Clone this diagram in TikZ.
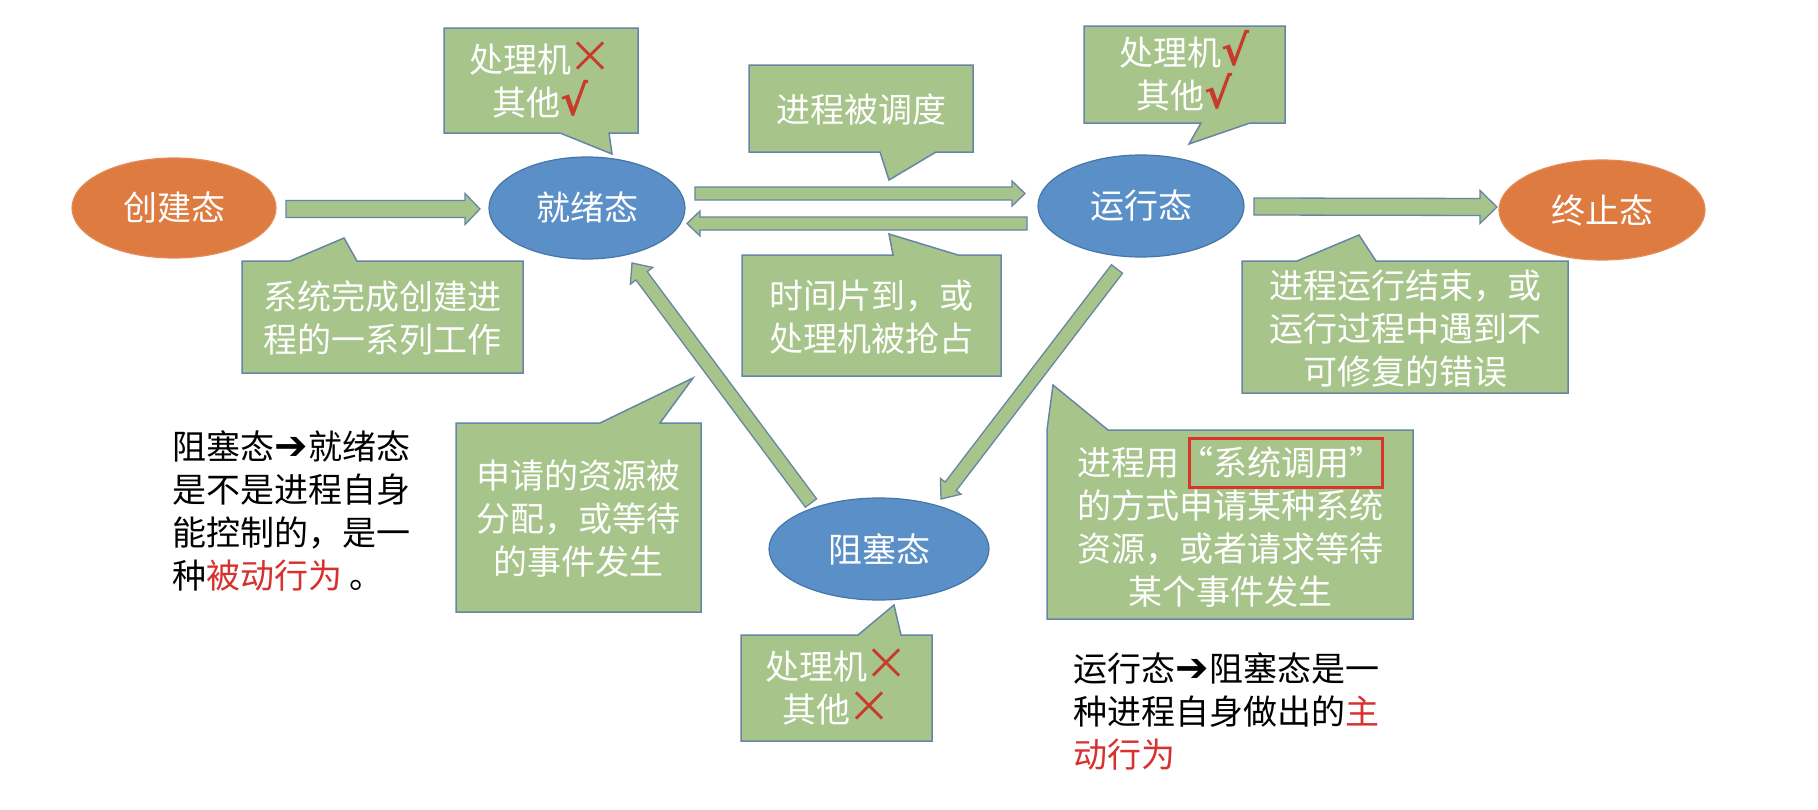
\documentclass[tikz,border=0pt]{standalone}
\usepackage{fontspec}
\setmainfont{Noto Sans CJK SC}
\newfontfamily\dejavu{DejaVu Sans}
\usetikzlibrary{shapes.geometric,calc}
\definecolor{orangeF}{HTML}{DD7B40}
\definecolor{orangeD}{HTML}{E48A55}
\definecolor{blueF}{HTML}{5B8FC8}
\definecolor{blueD}{HTML}{4676A8}
\definecolor{greenF}{HTML}{A7C48A}
\definecolor{greenD}{HTML}{6786A6}
\definecolor{redT}{HTML}{D6312E}
\definecolor{redM}{HTML}{C83A2C}
\definecolor{redBox}{HTML}{D9352B}
\newcommand\bigtxt{\fontsize{34}{43}\selectfont}
\newcommand\redx{{\color{redM}\fontsize{44}{43}\selectfont\hspace{-3pt}\smash{×}}}
\newcommand\redv{{\color{redM}\dejavu\bfseries\fontsize{42}{43}\selectfont \smash{√}}}
\newcommand\thickarrow{\makebox[1em]{\dejavu\bfseries\fontsize{40}{43}\selectfont ➔}}
\tikzset{
  statenode/.style={ellipse, inner sep=0pt, text=white, font=\bigtxt, line width=1.2pt},
  orangestate/.style={statenode, fill=orangeF, draw=orangeD},
  bluestate/.style={statenode, fill=blueF, draw=blueD},
  calloutbg/.style={fill=greenF, draw=greenD, line width=1.5pt, line join=miter},
  callouttext/.style={text=white, align=center, inner sep=0pt, font=\bigtxt},
  blockarrow/.style={fill=greenF, draw=greenD, line width=1.3pt, line join=miter},
  note/.style={align=left, inner sep=0pt, font=\bigtxt, text=black, anchor=west},
  highlight/.style={draw=redBox, line width=3pt, inner sep=0pt},
}
\newcommand\barrow[5]{%
  \coordinate (#1-#2-h) at ($(#2)!#5!(#1)$);
  \draw[blockarrow] ($(#1)!#3!90:(#2)$) -- ($(#1-#2-h)!#3!90:(#2)$) -- ($(#1-#2-h)!#4!90:(#2)$) -- (#2) -- ($(#1-#2-h)!#4!-90:(#2)$) -- ($(#1-#2-h)!#3!-90:(#2)$) -- ($(#1)!#3!-90:(#2)$) -- cycle;
}
\begin{document}
\begin{tikzpicture}[x=1pt,y=-1pt]
\fill[white] (0,0) rectangle (1818,809);
\useasboundingbox (0,0) rectangle (1818,809);

% states
\node[orangestate, minimum width=204pt, minimum height=100pt] (create) at (174,208) {创建态};
\node[bluestate, minimum width=196pt, minimum height=102pt] (ready) at (587,208) {就绪态};
\node[bluestate, minimum width=206pt, minimum height=102pt] (run) at (1141,206) {运行态};
\node[orangestate, minimum width=206pt, minimum height=100pt] (term) at (1602,210) {终止态};
\node[bluestate, minimum width=220pt, minimum height=102pt] (block) at (879,549) {阻塞态};

% arrow end points
\coordinate (a1s) at (286,209);   \coordinate (a1e) at (480,209);
\coordinate (a2s) at (695,193.5); \coordinate (a2e) at (1025,193.5);
\coordinate (a3s) at (1027,223.5);\coordinate (a3e) at (687,223.5);
\coordinate (a4s) at (1254,206.5);\coordinate (a4e) at (1497,207);
\coordinate (a5s) at (811,503);   \coordinate (a5e) at (632,263);
\coordinate (a6s) at (1117,269);  \coordinate (a6e) at (941,499);

\barrow{a1s}{a1e}{8.5pt}{15.5pt}{15pt}
\barrow{a2s}{a2e}{6.5pt}{12.5pt}{13pt}
\barrow{a3s}{a3e}{6.5pt}{12.5pt}{13pt}
\barrow{a4s}{a4e}{8.5pt}{16.5pt}{17pt}
\barrow{a5s}{a5e}{7pt}{14pt}{16pt}
\barrow{a6s}{a6e}{7pt}{13pt}{16pt}

% callouts
\draw[calloutbg] (444,28) -- (638,28) -- (638,133) -- (609,133) -- (612,154) -- (560,133) -- (444,133) -- cycle;
\node[callouttext] (c1) at (541,81.5) {处理机\redx\\其他\redv};

\draw[calloutbg] (242,261) -- (290,261) -- (344,238) -- (357,261) -- (523,261) -- (523,373) -- (242,373) -- cycle;
\node[callouttext] (c2) at (382.5,318.5) {系统完成创建进\\程的一系列工作};

\draw[calloutbg] (749,65) -- (973,65) -- (973,152) -- (936,152) -- (889,180) -- (880,152) -- (749,152) -- cycle;
\node[callouttext] (c3) at (861,109) {进程被调度};

\draw[calloutbg] (742,255) -- (893,255) -- (889,234) -- (958,255) -- (1001,255) -- (1001,376) -- (742,376) -- cycle;
\node[callouttext] (c4) at (871.5,317) {时间片到，或\\处理机被抢占};

\draw[calloutbg] (1084,26) -- (1285,26) -- (1285,123) -- (1250,123) -- (1189,144) -- (1201,123) -- (1084,123) -- cycle;
\node[callouttext] (c5) at (1184.5,74.5) {处理机\redv\\其他\redv};

\draw[calloutbg] (1242,261) -- (1297,261) -- (1359,235) -- (1376,261) -- (1568,261) -- (1568,393) -- (1242,393) -- cycle;
\node[callouttext] (c6) at (1405,329) {进程运行结束，或\\运行过程中遇到不\\可修复的错误};

\draw[calloutbg] (456,423) -- (600,423) -- (693,378) -- (660,423) -- (701,423) -- (701,612) -- (456,612) -- cycle;
\node[callouttext] (c7) at (578.5,519) {申请的资源被\\分配，或等待\\的事件发生};

\draw[calloutbg] (1047,430) -- (1053,385) -- (1108,430) -- (1413,430) -- (1413,619) -- (1047,619) -- cycle;
\node[callouttext] (c8) at (1230,527) {进程用\makebox[1em][r]{“}系统调用\makebox[1em][l]{”}\\的方式申请某种系统\\资源，或者请求等待\\某个事件发生};
\node[highlight, minimum width=193pt, minimum height=49pt] (hl) at (1285.5,462.5) {};

\draw[calloutbg] (741,635) -- (858,635) -- (894,605) -- (901,635) -- (932,635) -- (932,741) -- (741,741) -- cycle;
\node[callouttext] (c9) at (836.5,688.5) {处理机\redx\\其他\redx};

% notes
\node[note] (n1) at (172,511) {阻塞态\thickarrow 就绪态\\是不是进程自身\\能控制的，是一\\种{\color{redT}被动行为} 。};
\node[note] (n2) at (1073,712) {运行态\thickarrow 阻塞态是一\\种进程自身做出的{\color{redT}主}\\{\color{redT}动行为}};
\end{tikzpicture}
\end{document}
